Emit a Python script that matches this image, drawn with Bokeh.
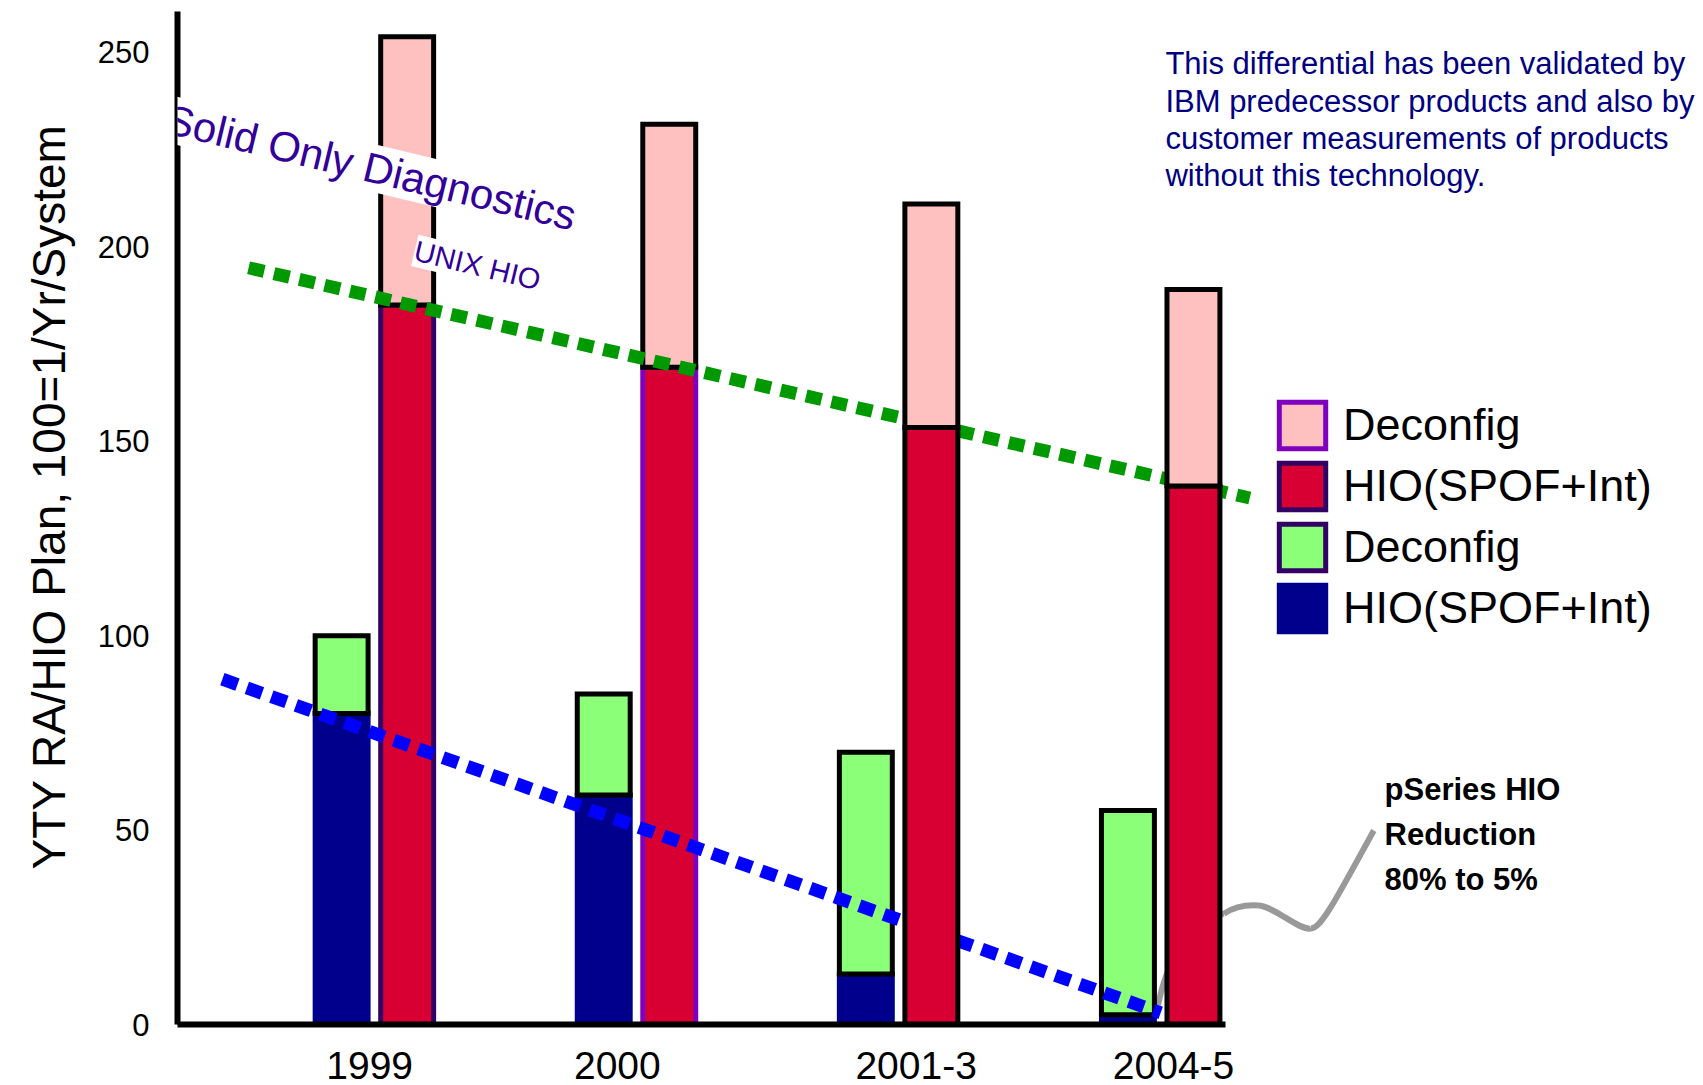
import numpy as np
from bokeh.plotting import figure
from bokeh.models import (Range1d, FixedTicker, Label, Legend, LegendItem, Title,
                          ColumnDataSource, CDSView, IndexFilter)
from bokeh.embed import file_html
from bokeh.resources import INLINE

# ---------------- data ----------------
categories = ["1999", "2000", "2001-3", "2004-5"]
category_label_pos = [0.982, 1.927, 3.067, 4.049]
pseries_hio = [80, 59, 13, 2.5]
pseries_deconfig = [20, 26, 57, 52.5]
unix_hio = [185, 169, 153.5, 138.5]
unix_deconfig = [69, 62.5, 57.5, 50.5]
unix_outline = ["#330066", "#7F00BF", "#000000", "#000000"]

unix_trend_x = [0.52, 4.34]
unix_trend_y = [194.6, 135.4]
pseries_trend_x = [0.42, 4.0]
pseries_trend_y = [88.8, 3.0]

y_ticks = [0, 50, 100, 150, 200, 250]
legend_labels = ["Deconfig", "HIO(SPOF+Int)", "Deconfig", "HIO(SPOF+Int)"]
note_lines = ["This differential has been validated by",
              "IBM predecessor products and also by",
              "customer measurements of products",
              "without this technology."]
callout_lines = ["pSeries HIO", "Reduction", "80% to 5%"]
y_title = "YTY RA/HIO Plan, 100=1/Yr/System"

# ---------------- style ----------------
FONT = "Liberation Sans"
NAVY = "#00008C"
LGREEN = "#8CFF78"
RED = "#D80032"
PINK = "#FFC0C0"
PURPLE = "#7F00BF"
DPURPLE = "#330066"
BAR_W = 0.202
OFF = 0.125
X0 = 0.2488

centers = np.arange(1, len(categories) + 1)

p = figure(width=1703, height=1085, output_backend="svg", toolbar_location=None,
           x_range=Range1d(X0, 6.071), y_range=Range1d(0, 260.5),
           min_border_left=177, min_border_right=0, min_border_top=11,
           min_border_bottom=61)
p.outline_line_color = None
p.grid.visible = False
p.background_fill_color = "white"
p.border_fill_color = "white"

# axes
xa = p.xaxis[0]
xa.ticker = FixedTicker(ticks=category_label_pos)
xa.major_label_overrides = {pos: lab for pos, lab in zip(category_label_pos, categories)}
xa.bounds = (X0, float(centers[-1] + OFF + BAR_W / 2 + 0.02))
xa.axis_line_width = 6
xa.axis_line_color = "black"
xa.major_tick_line_color = None
xa.minor_tick_line_color = None
xa.major_label_text_font = FONT
xa.major_label_text_font_size = "39px"
xa.major_label_text_color = "black"
xa.major_label_standoff = 21

ya = p.yaxis[0]
ya.ticker = FixedTicker(ticks=y_ticks)
ya.axis_line_width = 6
ya.axis_line_color = "black"
ya.major_tick_line_color = None
ya.minor_tick_line_color = None
ya.major_label_text_font = FONT
ya.major_label_text_font_size = "31px"
ya.major_label_text_color = "black"
ya.major_label_standoff = 22

# y-axis title in the left panel
p.add_layout(Title(text=y_title, align="left", offset=155, standoff=40,
                   text_font=FONT, text_font_size="46px", text_font_style="normal",
                   text_color="black"), "left")

src = ColumnDataSource(dict(
    xp=centers - OFF, xu=centers + OFF,
    p_hio=pseries_hio, p_top=np.add(pseries_hio, pseries_deconfig),
    u_hio=unix_hio, u_top=np.add(unix_hio, unix_deconfig),
    u_line=unix_outline))

# grey callout connector (behind the bars)
p.bezier(x0=[3.99, 4.241, 4.371, 4.573], y0=[5.0, 28.5, 30.6, 24.7],
         x1=[4.241, 4.371, 4.573, 4.813], y1=[28.5, 30.6, 24.7, 49.9],
         cx0=[4.03, 4.28, 4.43, 4.61], cy0=[18.0, 30.2, 30.6, 24.7],
         cx1=[4.12, 4.33, 4.53, 4.66], cy1=[27.0, 30.8, 24.0, 31.0],
         line_color="#999999", line_width=6)

# pSeries bars
p.vbar(x="xp", bottom=0, top="p_hio", width=BAR_W, source=src,
       fill_color=NAVY, line_color=NAVY, line_width=5, line_join="miter")
p.vbar(x="xp", bottom="p_hio", top="p_top", width=BAR_W, source=src,
       fill_color=LGREEN, line_color="black", line_width=5, line_join="miter")


def unix_bars(idx):
    view = CDSView(filter=IndexFilter(idx))
    p.vbar(x="xu", bottom=0, top="u_hio", width=BAR_W, source=src, view=view,
           fill_color=RED, line_color="u_line", line_width=5, line_join="miter")
    p.vbar(x="xu", bottom="u_hio", top="u_top", width=BAR_W, source=src, view=view,
           fill_color=PINK, line_color="black", line_width=5, line_join="miter")


unix_bars([0, 1])

# trend lines
p.line(unix_trend_x, unix_trend_y, line_color="#009900", line_width=13,
       line_dash="16 10", line_cap="butt")
p.line(pseries_trend_x, pseries_trend_y, line_color="#0000FF", line_width=13,
       line_dash="16 10", line_cap="butt")

unix_bars([2, 3])

# annotations
p.add_layout(Label(x=0.987, y=220.4, text="Solid Only Diagnostics", text_font=FONT,
                   text_font_size="42px", text_color="#330099", angle=-13.5,
                   angle_units="deg", text_align="center", text_baseline="middle",
                   background_fill_color="white"))
p.add_layout(Label(x=1.393, y=195.2, text="UNIX HIO", text_font=FONT,
                   text_font_size="29px", text_color="#330099", angle=-13.5,
                   angle_units="deg", text_align="center", text_baseline="middle",
                   background_fill_color="white"))

for i, line in enumerate(note_lines):
    p.add_layout(Label(x=4.018, y=247.0 - 9.57 * i, text=line, text_font=FONT,
                       text_font_size="31px", text_color="#000080",
                       text_align="left", text_baseline="alphabetic"))

for i, line in enumerate(callout_lines):
    p.add_layout(Label(x=4.854, y=60.4 - 11.6 * i, text=line, text_font=FONT,
                       text_font_size="31px", text_font_style="bold",
                       text_color="black", text_align="left",
                       text_baseline="alphabetic"))

# legend swatches (proxy glyphs placed outside the visible x range)
swatch_styles = [(PINK, PURPLE), (RED, DPURPLE), (LGREEN, DPURPLE), (NAVY, NAVY)]
items = []
for lab, (fc, lc) in zip(legend_labels, swatch_styles):
    r = p.vbar(x=[-5], top=[1], width=BAR_W, fill_color=fc, line_color=lc,
               line_width=5, line_join="miter")
    items.append(LegendItem(label=lab, renderers=[r]))

legend = Legend(items=items, location=(1096, 387), padding=0, margin=0,
                spacing=3, glyph_width=58, glyph_height=58, label_height=58,
                label_standoff=12, label_text_font=FONT,
                label_text_font_size="45px", label_text_color="black",
                border_line_color=None, background_fill_alpha=0)
p.add_layout(legend)

open("out.html", "w").write(file_html(p, INLINE))
